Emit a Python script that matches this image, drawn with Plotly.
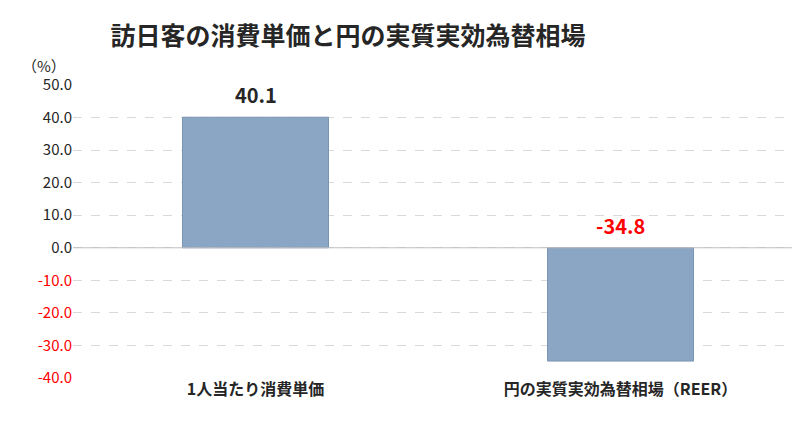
import plotly.graph_objects as go

categories = ["1人当たり消費単価", "円の実質実効為替相場（REER）"]
values = [40.1, -34.8]
label_colors = ["#262626", "#FF0000"]
tick_vals = [50, 40, 30, 20, 10, 0, -10, -20, -30, -40]

tick_text = []
for v in tick_vals:
    if v < 0:
        tick_text.append("<span style='color:#FF0000'>%.1f</span>" % v)
    else:
        tick_text.append("%.1f" % v)

font = "Noto Sans CJK JP"

fig = go.Figure()
fig.add_trace(go.Bar(
    x=categories, y=values, width=0.4,
    marker=dict(color="#8BA5C4", line=dict(color="#7A94B4", width=1)),
))

# value labels: above the bar top for positive, above the zero line for negative
for cat, v, c in zip(categories, values, label_colors):
    fig.add_annotation(x=cat, y=max(v, 0), text="<b>%.1f</b>" % v, showarrow=False,
                       yanchor="bottom", yshift=6, font=dict(size=20, color=c, family=font))

fig.update_layout(
    width=800, height=430,
    margin=dict(l=65, r=5, t=77, b=60),
    plot_bgcolor="white", paper_bgcolor="white",
    font=dict(family=font, size=15, color="#262626"),
    title=dict(text="<b>訪日客の消費単価と円の実質実効為替相場</b>", x=0.425, xanchor="center",
               y=0.955, font=dict(size=25, color="#262626")),
    showlegend=False,
)
fig.update_yaxes(
    range=[-40, 50], tickvals=tick_vals, ticktext=tick_text,
    showgrid=True, gridcolor="#D9D9D9", griddash="dash", zeroline=False,
    tickfont=dict(size=15, color="#262626"), ticks="",
)
fig.update_xaxes(showline=False, tickfont=dict(size=16, color="#262626"), ticks="",
                 ticktext=["<b>%s</b>" % c for c in categories], tickvals=categories)
fig.update_layout(shapes=[dict(type="line", xref="paper", x0=0, x1=1, yref="y", y0=0, y1=0,
                               line=dict(color="#BFBFBF", width=1))])
fig.add_annotation(text="（%）", xref="paper", yref="paper", x=-0.04, y=1.11,
                   showarrow=False, font=dict(size=15), xanchor="center")

fig.write_html("out.html")
